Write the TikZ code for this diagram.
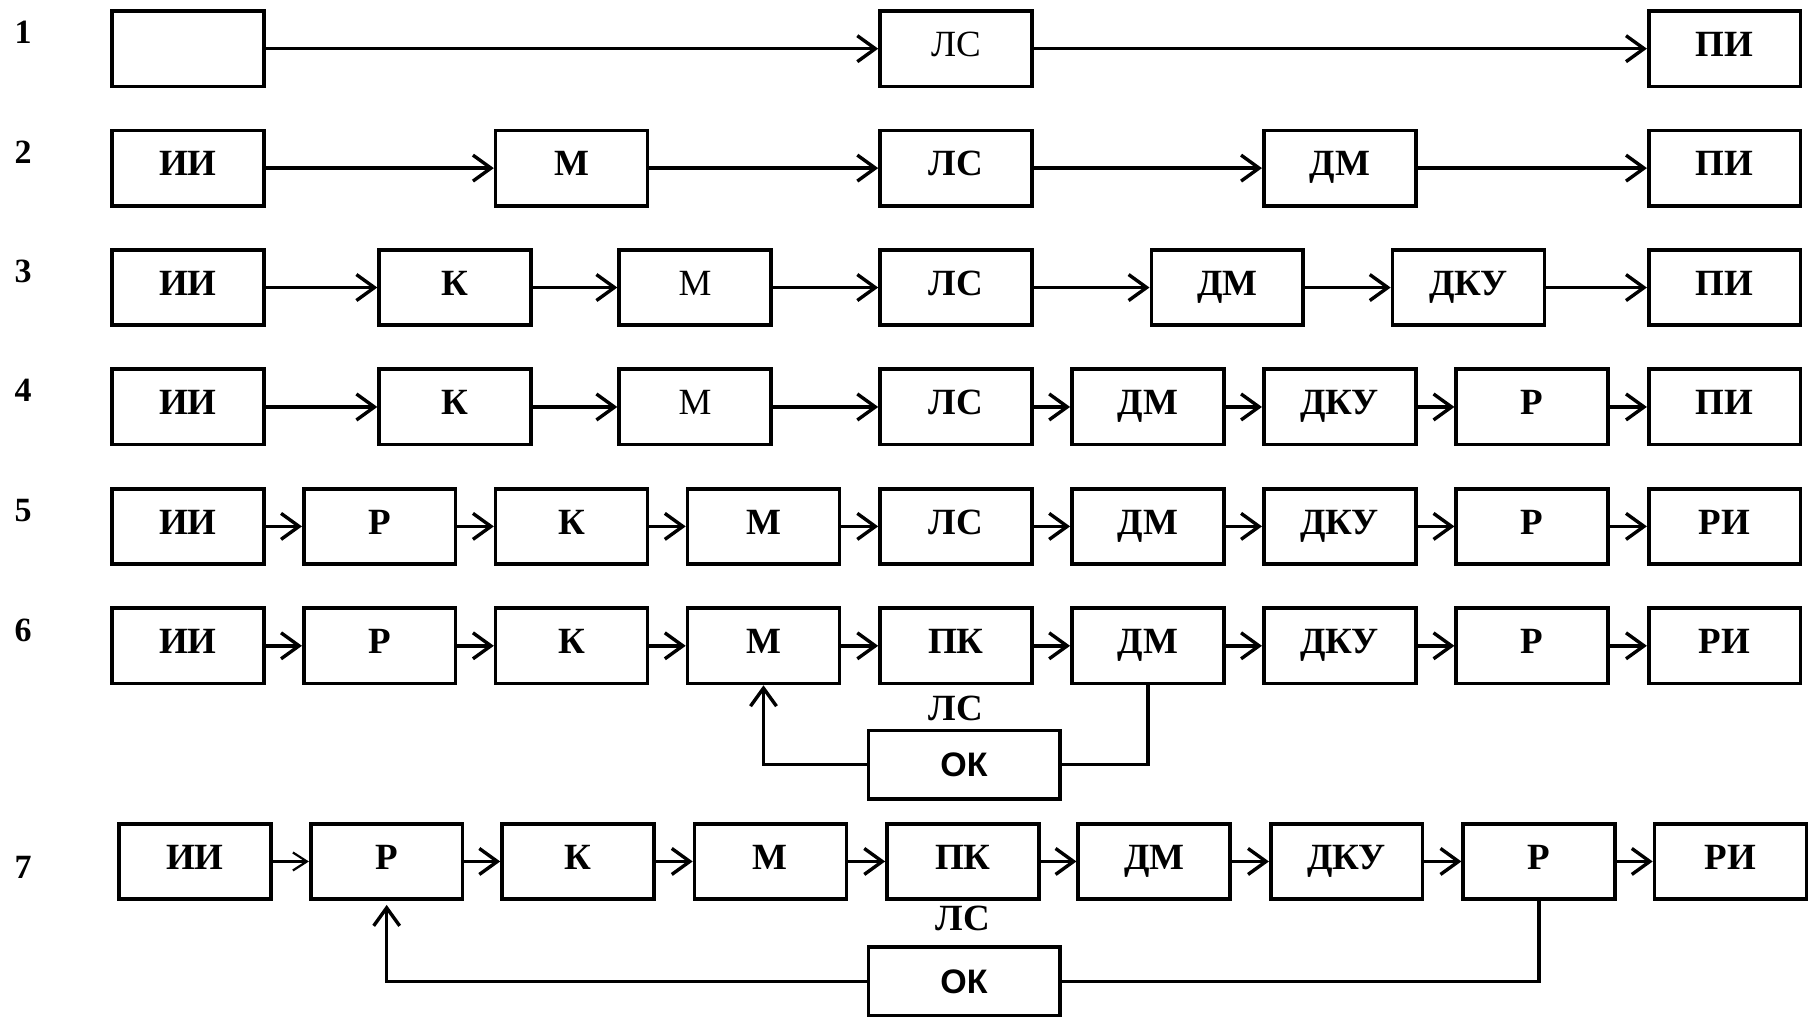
\documentclass[tikz,border=0pt]{standalone}
\usepackage{fontspec}
\setmainfont{Liberation Serif}
\newfontfamily\oksans{Liberation Sans}
\usetikzlibrary{arrows.meta}
\tikzset{
 block/.style={draw,line width=1.8pt,minimum width=76pt,minimum height=37.7pt,inner sep=0,text height=1.8ex,text depth=0.1ex,font=\fontsize{18.5}{20}\selectfont\bfseries},
 lightblock/.style={block,font=\fontsize{18.5}{20}\selectfont},
 okblock/.style={draw,line width=1.8pt,minimum width=95.7pt,minimum height=34.2pt,inner sep=0,font=\oksans\fontsize{17}{19}\selectfont\bfseries},
 rownum/.style={font=\fontsize{17}{19}\selectfont\bfseries},
 chlabel/.style={font=\fontsize{18.5}{20}\selectfont\bfseries},
 link/.style={line width=1.7pt},
 arrowlink/.style={link,-{Straight Barb[length=9pt,width=13pt]}},
 thinlink/.style={line width=1.1pt,-{Straight Barb[length=7pt,width=9pt]}}
}
\begin{document}
\begin{tikzpicture}[x=0.58pt,y=-0.58pt]
\path[use as bounding box] (0,0) rectangle (1568,877);
% row numbers
\node[rownum] (n1) at (20,28) {1};
\node[rownum] (n2) at (20,131) {2};
\node[rownum] (n3) at (20,234) {3};
\node[rownum] (n4) at (20,337) {4};
\node[rownum] (n5) at (20,440) {5};
\node[rownum] (n6) at (20,544) {6};
\node[rownum] (n7) at (20,748) {7};
% 1
\node[block] (e1) at (162,42) {};
\node[lightblock] (ls1) at (824.5,42) {ЛС};
\node[block] (pi1) at (1487.5,42) {ПИ};
\draw[arrowlink] (e1) -- (ls1);
\draw[arrowlink] (ls1) -- (pi1);
% 2
\node[block] (ii2) at (162,145) {ИИ};
\node[block] (m2) at (493,145) {М};
\node[block] (ls2) at (824.5,145) {ЛС};
\node[block] (dm2) at (1155.5,145) {ДМ};
\node[block] (pi2) at (1487.5,145) {ПИ};
\draw[arrowlink] (ii2) -- (m2);
\draw[arrowlink] (m2) -- (ls2);
\draw[arrowlink] (ls2) -- (dm2);
\draw[arrowlink] (dm2) -- (pi2);
% 3
\node[block] (ii3) at (162,248) {ИИ};
\node[block] (k3) at (392.5,248) {К};
\node[lightblock] (m3) at (599.5,248) {М};
\node[block] (ls3) at (824.5,248) {ЛС};
\node[block] (dm3) at (1058.5,248) {ДМ};
\node[block] (dku3) at (1266.5,248) {ДКУ};
\node[block] (pi3) at (1487.5,248) {ПИ};
\draw[arrowlink] (ii3) -- (k3);
\draw[arrowlink] (k3) -- (m3);
\draw[arrowlink] (m3) -- (ls3);
\draw[arrowlink] (ls3) -- (dm3);
\draw[arrowlink] (dm3) -- (dku3);
\draw[arrowlink] (dku3) -- (pi3);
% 4
\node[block] (ii4) at (162,351) {ИИ};
\node[block] (k4) at (392.5,351) {К};
\node[lightblock] (m4) at (599.5,351) {М};
\node[block] (ls4) at (824.5,351) {ЛС};
\node[block] (dm4) at (990,351) {ДМ};
\node[block] (dku4) at (1155.5,351) {ДКУ};
\node[block] (r4) at (1321.5,351) {Р};
\node[block] (pi4) at (1487.5,351) {ПИ};
\draw[arrowlink] (ii4) -- (k4);
\draw[arrowlink] (k4) -- (m4);
\draw[arrowlink] (m4) -- (ls4);
\draw[arrowlink] (ls4) -- (dm4);
\draw[arrowlink] (dm4) -- (dku4);
\draw[arrowlink] (dku4) -- (r4);
\draw[arrowlink] (r4) -- (pi4);
% 5
\node[block] (ii5) at (162,454) {ИИ};
\node[block] (ra5) at (327.5,454) {Р};
\node[block] (k5) at (493,454) {К};
\node[block] (m5) at (658.5,454) {М};
\node[block] (ls5) at (824.5,454) {ЛС};
\node[block] (dm5) at (990,454) {ДМ};
\node[block] (dku5) at (1155.5,454) {ДКУ};
\node[block] (rb5) at (1321.5,454) {Р};
\node[block] (ri5) at (1487.5,454) {РИ};
\draw[arrowlink] (ii5) -- (ra5);
\draw[arrowlink] (ra5) -- (k5);
\draw[arrowlink] (k5) -- (m5);
\draw[arrowlink] (m5) -- (ls5);
\draw[arrowlink] (ls5) -- (dm5);
\draw[arrowlink] (dm5) -- (dku5);
\draw[arrowlink] (dku5) -- (rb5);
\draw[arrowlink] (rb5) -- (ri5);
% 6
\node[block] (ii6) at (162,557) {ИИ};
\node[block] (ra6) at (327.5,557) {Р};
\node[block] (k6) at (493,557) {К};
\node[block] (m6) at (658.5,557) {М};
\node[block] (pk6) at (824.5,557) {ПК};
\node[block] (dm6) at (990,557) {ДМ};
\node[block] (dku6) at (1155.5,557) {ДКУ};
\node[block] (rb6) at (1321.5,557) {Р};
\node[block] (ri6) at (1487.5,557) {РИ};
\draw[arrowlink] (ii6) -- (ra6);
\draw[arrowlink] (ra6) -- (k6);
\draw[arrowlink] (k6) -- (m6);
\draw[arrowlink] (m6) -- (pk6);
\draw[arrowlink] (pk6) -- (dm6);
\draw[arrowlink] (dm6) -- (dku6);
\draw[arrowlink] (dku6) -- (rb6);
\draw[arrowlink] (rb6) -- (ri6);
\node[chlabel] (lsl6) at (824.5,611) {ЛС};
\node[okblock] (ok6) at (831.5,659.5) {ОК};
\draw[link] (dm6.south) |- (ok6.east);
\draw[arrowlink] (ok6.west) -| (m6.south);
% 7
\node[block] (ii7) at (168,743) {ИИ};
\node[block] (ra7) at (333.5,743) {Р};
\node[block] (k7) at (498.5,743) {К};
\node[block] (m7) at (664.5,743) {М};
\node[block] (pk7) at (830.5,743) {ПК};
\node[block] (dm7) at (995.5,743) {ДМ};
\node[block] (dku7) at (1161.5,743) {ДКУ};
\node[block] (rb7) at (1327.5,743) {Р};
\node[block] (ri7) at (1492.5,743) {РИ};
\draw[thinlink] (ii7) -- (ra7);
\draw[arrowlink] (ra7) -- (k7);
\draw[arrowlink] (k7) -- (m7);
\draw[arrowlink] (m7) -- (pk7);
\draw[arrowlink] (pk7) -- (dm7);
\draw[arrowlink] (dm7) -- (dku7);
\draw[arrowlink] (dku7) -- (rb7);
\draw[arrowlink] (rb7) -- (ri7);
\node[chlabel] (lsl7) at (830.5,792) {ЛС};
\node[okblock] (ok7) at (831.5,846.5) {ОК};
\draw[link] (rb7.south) |- (ok7.east);
\draw[arrowlink,shorten >=2pt] (ok7.west) -| (ra7.south);
\end{tikzpicture}
\end{document}
